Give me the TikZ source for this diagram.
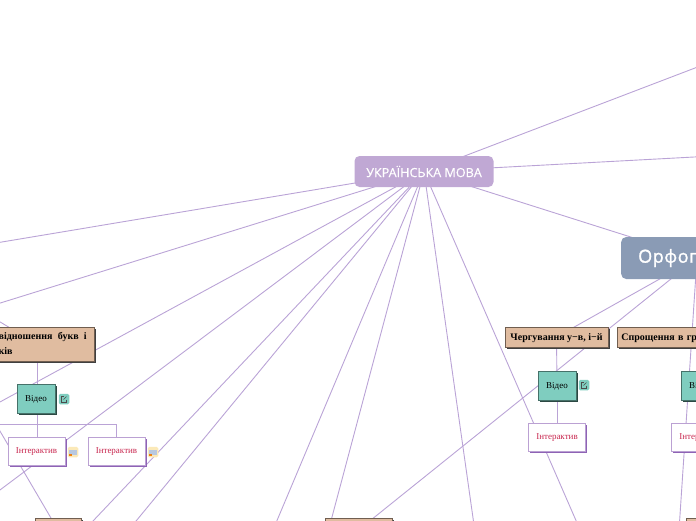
\documentclass[tikz,border=0pt]{standalone}
\usepackage{fontspec}
\setmainfont{Liberation Serif}
\newfontfamily\rootfont[FakeBold=0.4]{Open Sans}
\newfontfamily\orthfont[FakeBold=1.4,LetterSpace=3]{Open Sans}
\usetikzlibrary{shadows,backgrounds}
\definecolor{linkc}{HTML}{BAA3D6}
\definecolor{rootc}{HTML}{C0A8D4}
\definecolor{orthc}{HTML}{8A9BB5}
\definecolor{tanc}{HTML}{E0BCA0}
\definecolor{tealc}{HTML}{7FCDBF}
\definecolor{redc}{HTML}{C9274F}
\definecolor{purc}{HTML}{8E63B5}
\definecolor{notec}{HTML}{FBE9B8}
\definecolor{noteb}{HTML}{B8C8E0}
\tikzset{
  x=1pt,y=-1pt,
  link/.style={draw=linkc,line width=0.9pt},
  rootbox/.style={fill=rootc,rounded corners=5pt,text=white,font=\rootfont\fontsize{12.6}{14}\selectfont,minimum width=139pt,minimum height=31pt,inner sep=0pt},
  orthbox/.style={fill=orthc,rounded corners=5pt,text=white,font=\orthfont\fontsize{18}{20}\selectfont,minimum width=152pt,minimum height=42pt,inner sep=0pt},
  tanbox/.style={fill=tanc,draw=black!50!tanc,line width=0.9pt,font=\fontsize{10}{14.5}\selectfont\bfseries,inner sep=0pt,
     drop shadow={shadow xshift=1.5pt,shadow yshift=-1.5pt,fill=black!75,opacity=1}},
  videobox/.style={fill=tealc,draw=black!45!tealc,line width=0.9pt,font=\fontsize{9}{11}\selectfont,minimum width=38pt,minimum height=29pt,inner sep=0pt,text height=6pt,text depth=1pt,
     drop shadow={shadow xshift=1.5pt,shadow yshift=-1.5pt,fill=black!65!tealc,opacity=1}},
  intbox/.style={fill=white,draw=purc!60,line width=0.8pt,text=redc,font=\fontsize{9}{11}\selectfont,minimum width=57pt,minimum height=28pt,inner sep=0pt,text height=6pt,text depth=1pt,
     drop shadow={shadow xshift=1.5pt,shadow yshift=-1.5pt,fill=purc,opacity=1}},
  linkicon/.style={fill=tealc,rounded corners=1.5pt,minimum width=10.5pt,minimum height=10.5pt,inner sep=0pt},
  noteicon/.style={fill=notec,rounded corners=1.5pt,minimum width=10.5pt,minimum height=10.5pt,inner sep=0pt},
}
\pgfdeclarelayer{links}
\pgfsetlayers{links,main}
\newcommand{\linkglyph}[1]{\draw[black!70,line width=0.6pt] ([xshift=2.5pt,yshift=-0.5pt]#1.center) -- ([xshift=2.5pt,yshift=-3pt]#1.center) -- ([xshift=-2.5pt,yshift=-3pt]#1.center) -- ([xshift=-2.5pt,yshift=2.5pt]#1.center) -- ([xshift=0pt,yshift=2.5pt]#1.center);
 \draw[black!70,line width=0.6pt] ([xshift=-0.5pt,yshift=-0.5pt]#1.center) -- ([xshift=2.5pt,yshift=2.5pt]#1.center);}
\newcommand{\noteglyph}[1]{\fill[noteb] ([xshift=-4pt,yshift=-3pt]#1.center) rectangle ([xshift=4pt,yshift=2pt]#1.center);
 \fill[orange!70!brown] ([xshift=-4pt,yshift=-2pt]#1.center) rectangle ([xshift=-1.5pt,yshift=-4pt]#1.center);}
\begin{document}
\begin{tikzpicture}
\useasboundingbox (0,0) rectangle (696,520);
\node[rootbox] (root) at (424,171.5) {УКРАЇНСЬКА МОВА};
\node[orthbox,anchor=west,text width=135pt,align=left] (orth) at (621,258) {\hspace*{8.5pt}Орфографія};
% right branch
\node[tanbox,minimum width=103pt,minimum height=20pt,text height=7pt,text depth=1pt] (cherg) at (556.5,337) {Чергування у−в, і−й};
\node[videobox] (vid1) at (557,385.5) {Відео};
\node[intbox] (int1) at (557,437) {Інтерактив};
\node[linkicon] (ic1) at (584,385) {};
\linkglyph{ic1}
\node[tanbox,anchor=west,minimum width=170pt,minimum height=20pt,text width=166pt,align=left,text height=7pt,text depth=1pt] (spr) at (617,337) {\hspace*{2pt}Спрощення в групах приголосних};
\node[videobox] (vid2) at (700,385.5) {Відео};
\node[intbox] (int2) at (700,437) {Інтерактив};
% left branch
\node[tanbox,anchor=east,minimum width=115pt,minimum height=34pt,align=left] (sv) at (95,344) {\hbox to 115pt{\hss Співвідношення\hspace{5.5pt}букв\hspace{5pt}і\hskip 8pt}\\[0.5pt]\hbox to 115pt{\hskip 5pt звуків\hfil}};
\node[videobox] (vid3) at (36,399) {Відео};
\node[linkicon] (ic3) at (64,399) {};
\linkglyph{ic3}
\node[intbox] (int3) at (36.5,451) {Інтерактив};
\node[intbox] (int4) at (116.5,451) {Інтерактив};
\node[noteicon] (ic4) at (73,452) {};
\noteglyph{ic4}
\node[noteicon] (ic5) at (153,452) {};
\noteglyph{ic5}
% bottom boxes
\node[tanbox,minimum width=46pt,minimum height=24pt] (bl) at (58,530) {};
\node[tanbox,minimum width=67pt,minimum height=24pt] (bm) at (358.5,530) {};
\node[tanbox,minimum width=60pt,minimum height=24pt,anchor=west] (br) at (686,530) {};
% free ends
\coordinate (ua) at (-40,249);
\coordinate (ub) at (-40,315.5);
\coordinate (uc) at (-40,423.7);
\coordinate (ud) at (-40,520);
\coordinate (ue) at (84,530.5);
\coordinate (uf) at (127,532);
\coordinate (ug) at (273,530);
\coordinate (uh) at (328,532);
\coordinate (ui) at (475,532);
\coordinate (uj) at (581,532);
\coordinate (uk) at (750,47);
\coordinate (ul) at (750,154);
\coordinate (um) at (679,530);
\coordinate (un) at (-40,298);
\coordinate (uo) at (-20,397);
\coordinate (up) at (-20,424);
\coordinate (oc) at (697,258);
\coordinate (sc) at (37,344);
\coordinate (t3) at (37,399);
\coordinate (b3) at (37,451);
\begin{pgfonlayer}{links}
\draw[link] (root.center) -- (ua);
\draw[link] (root.center) -- (ub);
\draw[link] (root.center) -- (uc);
\draw[link] (root.center) -- (ud);
\draw[link] (root.center) -- (ue);
\draw[link] (root.center) -- (uf);
\draw[link] (root.center) -- (ug);
\draw[link] (root.center) -- (uh);
\draw[link] (root.center) -- (ui);
\draw[link] (root.center) -- (uj);
\draw[link] (root.center) -- (uk);
\draw[link] (root.center) -- (ul);
\draw[link] (root.center) -- (oc);
\draw[link] (oc) -- (cherg.center);
\draw[link] (oc) -- (bm.center);
\draw[link] (oc) -- (um);
\draw[link] (cherg) -- (vid1);
\draw[link] (vid1) -- (int1);
\draw[link] (un) -- (sc);
\draw[link] (uo) -- (bl.center);
\draw[link] (sc) -- (t3);
\draw[link] (t3) -- (b3);
\draw[link] (up) -- (int4.north |- up) -- (int4.north);
\end{pgfonlayer}
\end{tikzpicture}
\end{document}
